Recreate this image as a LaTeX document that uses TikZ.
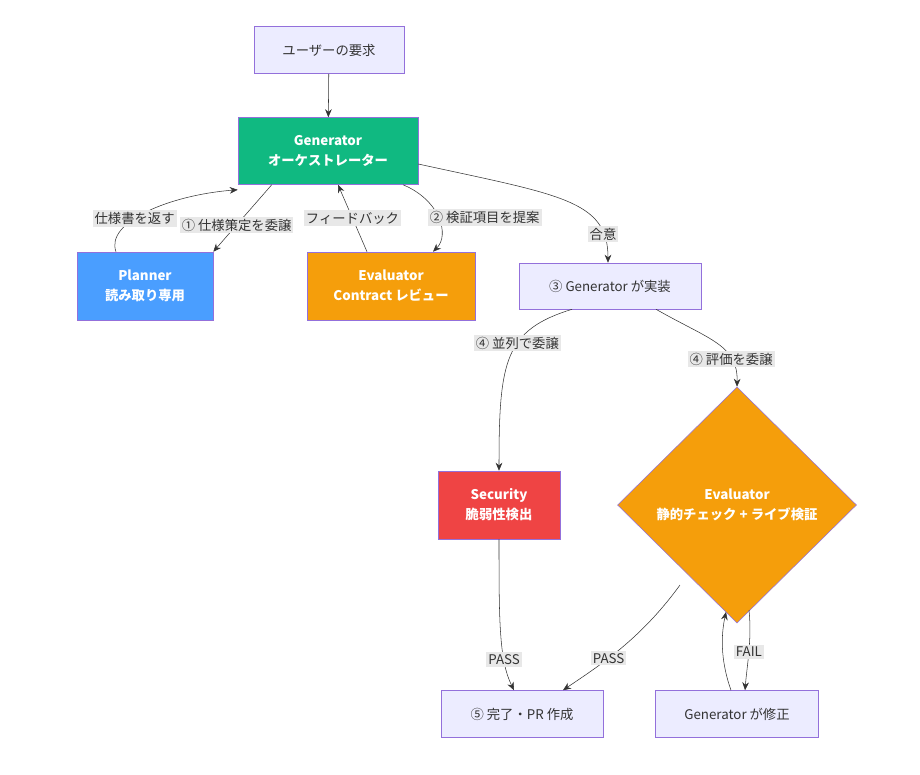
\documentclass[tikz,border=0pt]{standalone}
\usepackage{fontspec}
\setmainfont{Noto Sans CJK JP}
\usepackage{xcolor}
\definecolor{boxfill}{RGB}{236,236,255}
\definecolor{boxline}{RGB}{147,112,219}
\definecolor{gengreen}{RGB}{16,185,129}
\definecolor{planblue}{RGB}{74,158,255}
\definecolor{evalorange}{RGB}{245,158,11}
\definecolor{secred}{RGB}{239,68,68}
\definecolor{lblgray}{RGB}{232,232,232}
\definecolor{edge}{RGB}{51,51,51}
\usetikzlibrary{shapes.geometric,arrows.meta}
\begin{document}
\begin{tikzpicture}[x=0.75pt,y=-0.75pt,
  font=\fontsize{10}{12}\selectfont,
  plain/.style={draw=boxline,fill=boxfill,text=black!80,align=center,inner sep=0pt},
  solid box/.style={draw=boxline,fill=#1,text=white,font=\fontsize{10}{15}\selectfont\bfseries,align=center,inner sep=0pt},
  flow/.style={draw=edge,-{Stealth[length=6pt,width=5pt]}},
  lbl/.style={fill=lblgray,text=black!80,inner sep=1.5pt}]
  \useasboundingbox (0,0) rectangle (920,774);

  \node[plain,minimum width=150*0.75pt,minimum height=47*0.75pt] (req) at (329,50) {ユーザーの要求};
  \node[solid box=gengreen,minimum width=180*0.75pt,minimum height=67*0.75pt] (gen) at (328,151) {Generator\\オーケストレーター};
  \node[solid box=planblue,minimum width=136*0.75pt,minimum height=68*0.75pt] (plan) at (145,286) {Planner\\読み取り専用};
  \node[solid box=evalorange,minimum width=168*0.75pt,minimum height=68*0.75pt] (evc) at (391,286) {Evaluator\\Contract レビュー};
  \node[plain,minimum width=182*0.75pt,minimum height=46*0.75pt] (impl) at (610,286) {③ Generator が実装};
  \node[solid box=secred,minimum width=122*0.75pt,minimum height=68*0.75pt] (sec) at (499,505) {Security\\脆弱性検出};
  \node[diamond,solid box=evalorange,minimum width=239*0.75pt,minimum height=236*0.75pt] (eval) at (737,505) {Evaluator\\静的チェック + ライブ検証};
  \node[plain,minimum width=162*0.75pt,minimum height=47*0.75pt] (done) at (522,714) {⑤ 完了・PR 作成};
  \node[plain,minimum width=163*0.75pt,minimum height=47*0.75pt] (fix) at (737,714) {Generator が修正};

  \draw[flow] (req) -- (gen);
  \draw[flow] (gen.south west) ++(34*0.75pt,0) -- (plan.north east) node[lbl,pos=0.6] {① 仕様策定を委譲};
  \draw[flow] ([xshift=-29*0.75pt]plan.north) .. controls (105,222) and (170,195) .. ([yshift=-5*0.75pt]gen.south west) node[lbl,pos=0.4] {仕様書を返す};
  \draw[flow] ([xshift=-24*0.75pt]evc.north) -- ([xshift=10*0.75pt]gen.south) node[lbl,pos=0.5] {フィードバック};
  \draw[flow] ([xshift=75*0.75pt]gen.south) .. controls (440,200) and (450,235) .. ([xshift=42*0.75pt]evc.north) node[lbl,pos=0.5,right=-8pt] {② 検証項目を提案};
  \draw[flow] ([yshift=-13*0.75pt]gen.east) .. controls (560,195) and (608,200) .. ([xshift=-2*0.75pt]impl.north) node[lbl,pos=0.82] {合意};
  \draw[flow] ([xshift=-38*0.75pt]impl.south) .. controls (505,330) and (499,360) .. (sec.north) node[lbl,pos=0.4] {④ 並列で委譲};
  \draw[flow] ([xshift=46*0.75pt]impl.south) .. controls (710,340) and (738,345) .. (eval.north) node[lbl,pos=0.72] {④ 評価を委譲};
  \draw[flow] (sec.south) .. controls (499,620) and (499,660) .. ([xshift=-8*0.75pt]done.north) node[lbl,pos=0.7] {PASS};
  \draw[flow] (680,585) .. controls (640,640) and (600,665) .. ([xshift=41*0.75pt]done.north) node[lbl,pos=0.6] {PASS};
  \draw[flow] (749,610) .. controls (752,640) and (747,665) .. ([xshift=8*0.75pt]fix.north) node[lbl,pos=0.5] {FAIL};
  \draw[flow] ([xshift=-6*0.75pt]fix.north) .. controls (722,665) and (720,640) .. (726,612);
\end{tikzpicture}
\end{document}
